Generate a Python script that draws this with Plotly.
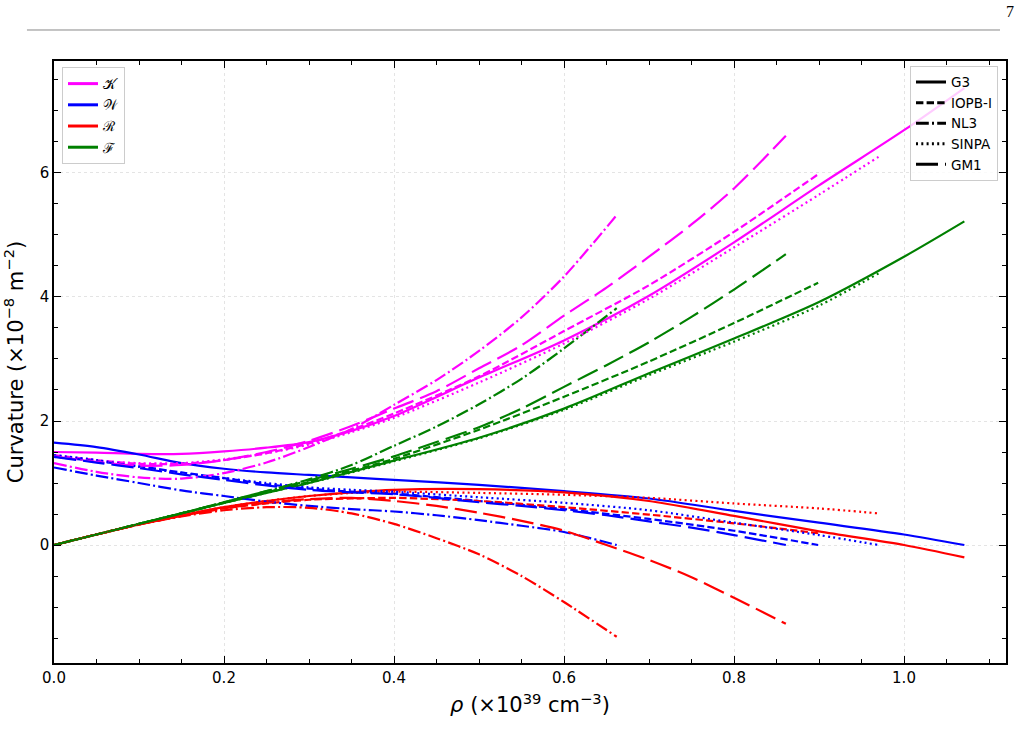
import plotly.graph_objects as go

# ---------------- data ----------------
x_G3 = [0, 0.05, 0.1, 0.15, 0.2, 0.25, 0.3, 0.35, 0.4, 0.5, 0.6, 0.7, 0.8, 0.9, 1.0, 1.071]
K_G3 = [1.50, 1.49, 1.47, 1.47, 1.51, 1.57, 1.66, 1.84, 2.08, 2.70, 3.30, 4.02, 4.88, 5.80, 6.69, 7.37]
W_G3 = [1.65, 1.58, 1.46, 1.32, 1.23, 1.17, 1.13, 1.09, 1.05, 0.97, 0.87, 0.75, 0.55, 0.36, 0.17, 0.0]
R_G3 = [0, 0.17, 0.33, 0.48, 0.61, 0.71, 0.79, 0.85, 0.89, 0.90, 0.85, 0.71, 0.47, 0.22, 0.0, -0.20]
F_G3 = [0, 0.17, 0.34, 0.51, 0.68, 0.84, 1.00, 1.18, 1.36, 1.73, 2.20, 2.77, 3.33, 3.92, 4.65, 5.22]

x_IOPB = [0, 0.05, 0.1, 0.15, 0.2, 0.25, 0.3, 0.35, 0.4, 0.5, 0.6, 0.7, 0.8, 0.899]
K_IOPB = [1.45, 1.37, 1.31, 1.31, 1.37, 1.48, 1.64, 1.86, 2.12, 2.72, 3.45, 4.19, 5.05, 5.98]
W_IOPB = [1.43, 1.35, 1.27, 1.17, 1.08, 0.98, 0.91, 0.86, 0.83, 0.71, 0.58, 0.42, 0.23, 0.0]
R_IOPB = [0, 0.17, 0.33, 0.47, 0.59, 0.67, 0.73, 0.75, 0.76, 0.71, 0.61, 0.49, 0.35, 0.19]
F_IOPB = [0, 0.17, 0.34, 0.51, 0.68, 0.85, 1.02, 1.20, 1.39, 1.86, 2.39, 2.96, 3.58, 4.23]

x_NL3 = [0, 0.05, 0.1, 0.15, 0.2, 0.25, 0.3, 0.35, 0.4, 0.45, 0.5, 0.55, 0.6, 0.662]
K_NL3 = [1.32, 1.18, 1.09, 1.07, 1.16, 1.33, 1.58, 1.87, 2.26, 2.66, 3.13, 3.67, 4.33, 5.32]
W_NL3 = [1.25, 1.12, 1.00, 0.88, 0.79, 0.70, 0.63, 0.58, 0.54, 0.48, 0.40, 0.31, 0.21, 0.0]
R_NL3 = [0, 0.17, 0.33, 0.46, 0.56, 0.61, 0.60, 0.51, 0.34, 0.11, -0.15, -0.50, -0.92, -1.48]
F_NL3 = [0, 0.17, 0.34, 0.51, 0.69, 0.87, 1.06, 1.29, 1.60, 1.91, 2.27, 2.68, 3.17, 3.82]

x_SINPA = [0, 0.05, 0.1, 0.15, 0.2, 0.25, 0.3, 0.35, 0.4, 0.5, 0.6, 0.7, 0.8, 0.9, 0.97]
K_SINPA = [1.42, 1.36, 1.32, 1.32, 1.38, 1.48, 1.62, 1.82, 2.05, 2.62, 3.25, 3.97, 4.80, 5.65, 6.26]
W_SINPA = [1.45, 1.37, 1.26, 1.16, 1.08, 1.00, 0.93, 0.89, 0.86, 0.77, 0.68, 0.56, 0.36, 0.16, 0.0]
R_SINPA = [0, 0.17, 0.33, 0.48, 0.61, 0.71, 0.79, 0.84, 0.86, 0.84, 0.81, 0.76, 0.67, 0.59, 0.51]
F_SINPA = [0, 0.17, 0.34, 0.51, 0.68, 0.84, 1.00, 1.17, 1.35, 1.72, 2.18, 2.74, 3.28, 3.86, 4.38]

x_GM1 = [0, 0.05, 0.1, 0.15, 0.2, 0.25, 0.3, 0.35, 0.4, 0.45, 0.5, 0.55, 0.6, 0.65, 0.7, 0.75, 0.8, 0.861]
K_GM1 = [1.43, 1.34, 1.28, 1.29, 1.37, 1.50, 1.68, 1.92, 2.20, 2.48, 2.85, 3.22, 3.70, 4.15, 4.65, 5.17, 5.75, 6.60]
W_GM1 = [1.42, 1.33, 1.24, 1.14, 1.05, 0.96, 0.89, 0.85, 0.82, 0.76, 0.69, 0.63, 0.56, 0.48, 0.38, 0.28, 0.16, 0.0]
R_GM1 = [0, 0.17, 0.33, 0.47, 0.59, 0.68, 0.74, 0.76, 0.71, 0.63, 0.52, 0.39, 0.23, 0.0, -0.24, -0.52, -0.85, -1.27]
F_GM1 = [0, 0.17, 0.34, 0.51, 0.69, 0.87, 1.04, 1.23, 1.43, 1.66, 1.90, 2.20, 2.55, 2.90, 3.27, 3.68, 4.12, 4.69]

models = ["G3", "IOPB-I", "NL3", "SINPA", "GM1"]
quantities = ["𝒦", "𝒲", "ℛ", "ℱ"]
x_by_model = {"G3": x_G3, "IOPB-I": x_IOPB, "NL3": x_NL3, "SINPA": x_SINPA, "GM1": x_GM1}
y_by_model = {
    "G3": [K_G3, W_G3, R_G3, F_G3],
    "IOPB-I": [K_IOPB, W_IOPB, R_IOPB, F_IOPB],
    "NL3": [K_NL3, W_NL3, R_NL3, F_NL3],
    "SINPA": [K_SINPA, W_SINPA, R_SINPA, F_SINPA],
    "GM1": [K_GM1, W_GM1, R_GM1, F_GM1],
}

# ---------------- styles ----------------
colors = ["#ff00ff", "#0000ff", "#ff0000", "#008000"]
dashes = {
    "G3": "solid",
    "IOPB-I": "7.4px,3.2px",
    "NL3": "12.8px,3.2px,2px,3.2px",
    "SINPA": "2px,3.3px",
    "GM1": "22px,7px",
}
LW = 2.2
FONT = "DejaVu Sans"

fig = go.Figure()

for m in models:
    for qi, q in enumerate(quantities):
        fig.add_trace(go.Scatter(
            x=x_by_model[m], y=y_by_model[m][qi], mode="lines",
            line=dict(color=colors[qi], width=LW, dash=dashes[m], shape="spline", smoothing=0.8),
            showlegend=False, hoverinfo="skip"))

# legend 1: quantities
for qi, q in enumerate(quantities):
    fig.add_trace(go.Scatter(
        x=[None], y=[None], mode="lines", name=q,
        line=dict(color=colors[qi], width=3), legend="legend"))

# legend 2: models
for m in models:
    fig.add_trace(go.Scatter(
        x=[None], y=[None], mode="lines", name=m,
        line=dict(color="black", width=3, dash=dashes[m]), legend="legend2"))

axis_common = dict(
    showline=True, linecolor="black", linewidth=1.6, mirror="allticks",
    ticks="inside", ticklen=7, tickwidth=1.2, tickcolor="black",
    showgrid=True, gridcolor="#e4e4e4", griddash="3px,3px", gridwidth=1,
    zeroline=False, automargin=False,
    tickfont=dict(family=FONT, size=15, color="black"),
)

fig.update_xaxes(
    range=[0, 1.12], tickmode="linear", tick0=0, dtick=0.2, tickformat=".1f",
    minor=dict(ticks="inside", ticklen=4, tickwidth=1, tickcolor="black", dtick=0.05, showgrid=False),
    title=dict(text="<i>ρ</i> (×10<sup>39</sup> cm<sup>−3</sup>)",
               font=dict(family=FONT, size=21, color="black"), standoff=12),
    **axis_common)
fig.update_yaxes(
    range=[-1.903, 7.806], tickmode="linear", tick0=0, dtick=2,
    minor=dict(ticks="inside", ticklen=4, tickwidth=1, tickcolor="black", dtick=0.5, showgrid=False),
    title=dict(text="Curvature (×10<sup>−8</sup> m<sup>−2</sup>)",
               font=dict(family=FONT, size=21, color="black"), standoff=10),
    **axis_common)

fig.update_layout(
    width=1021, height=756,
    margin=dict(l=54, r=15, t=61, b=93),
    paper_bgcolor="white", plot_bgcolor="white",
    font=dict(family=FONT, color="black"),
    legend=dict(x=0.0084, y=0.99, xanchor="left", yanchor="top",
                bgcolor="rgba(255,255,255,0.8)", bordercolor="#cccccc", borderwidth=1,
                font=dict(family="DejaVu Serif", size=14, color="black"),
                itemwidth=30, tracegroupgap=0),
    legend2=dict(x=0.9916, y=0.992, xanchor="right", yanchor="top",
                 bgcolor="rgba(255,255,255,0.8)", bordercolor="#cccccc", borderwidth=1,
                 font=dict(family=FONT, size=13.5, color="black"),
                 itemwidth=30, tracegroupgap=0),
    shapes=[dict(type="line", xref="paper", yref="paper",
                 x0=-0.0284, x1=0.9937, y0=1.0515, y1=1.0515,
                 line=dict(color="#888888", width=1))],
    annotations=[dict(text="7", xref="paper", yref="paper", x=1.0042, y=1.0814,
                      xanchor="center", yanchor="middle", showarrow=False,
                      font=dict(family="Liberation Serif", size=16, color="black"))],
)

fig.write_html("out.html")
